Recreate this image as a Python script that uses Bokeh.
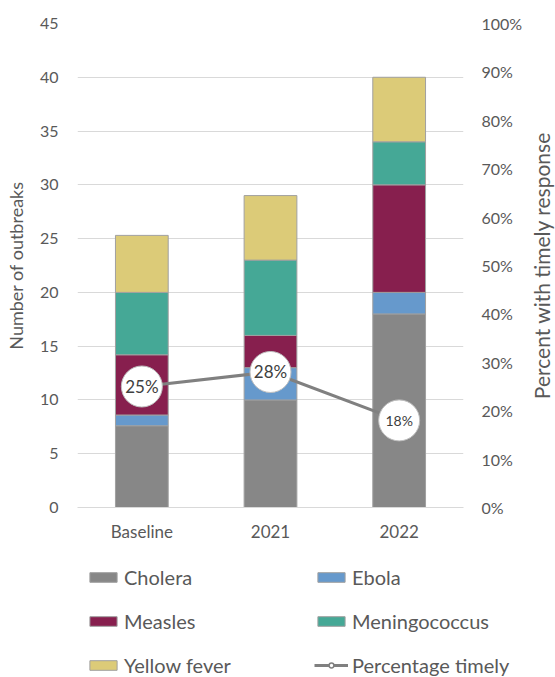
from bokeh.plotting import figure
from bokeh.layouts import column, row
from bokeh.models import (ColumnDataSource, FactorRange, Range1d, LinearAxis, FixedTicker,
                          SingleIntervalTicker, PrintfTickFormatter, Legend, LegendItem)
from bokeh.core.properties import value
from bokeh.embed import file_html
from bokeh.resources import INLINE

# ---- data ----
categories = ["Baseline", "2021", "2022"]
cholera = [7.6, 10, 18]
ebola = [1.0, 3, 2]
measles = [5.6, 3, 10]
meningococcus = [5.8, 7, 4]
yellow_fever = [5.3, 6, 6]
pct_timely = [25, 28, 18]

disease_names = ["Cholera", "Ebola", "Measles", "Meningococcus", "Yellow fever"]
keys = ["cholera", "ebola", "measles", "meningococcus", "yellow_fever"]
colors = ["#878787", "#6699cc", "#871f4e", "#45a896", "#dccb78"]
label_sizes = ["17px", "17px", "14px"]

FONT = "Lato"
TXT = "#595959"
GRID = "#d9d9d9"
BAR_LINE = "#a0a0a0"
LINE_COLOR = "#808080"

TOP, BOTTOM = 23, 40

p = figure(x_range=FactorRange(factors=categories, range_padding=0),
           y_range=Range1d(0, 45),
           width=525, height=547,
           min_border_left=77, min_border_right=62,
           min_border_top=TOP, min_border_bottom=BOTTOM,
           output_backend="svg", toolbar_location=None)
p.outline_line_color = None
p.background_fill_color = "white"
p.border_fill_color = "white"

src = ColumnDataSource(dict(cat=categories, cholera=cholera, ebola=ebola, measles=measles,
                           meningococcus=meningococcus, yellow_fever=yellow_fever))
bars = p.vbar_stack(keys, x="cat", width=0.41, color=colors, line_color=BAR_LINE,
                    line_width=1, source=src)

# secondary axis
p.extra_y_ranges = {"pct": Range1d(0, 100)}
p.line(x=categories, y=pct_timely, y_range_name="pct", line_color=LINE_COLOR, line_width=3)
p.scatter(x=categories, y=pct_timely, y_range_name="pct", size=41, marker="circle",
          fill_color="white", line_color="#bfbfbf", line_width=1)
p.text(x=categories, y=pct_timely, y_range_name="pct",
       text=[f"{v}%" for v in pct_timely], text_align="center", text_baseline="middle",
       text_font=value(FONT), text_font_size=label_sizes, text_color="#404040")

# left axis
ya = p.yaxis[0]
ya.ticker = SingleIntervalTicker(interval=5)
ya.axis_label = "Number of outbreaks"
p.ygrid.ticker = SingleIntervalTicker(interval=5)
p.ygrid.grid_line_color = GRID
p.xgrid.grid_line_color = None

ra = LinearAxis(y_range_name="pct", ticker=SingleIntervalTicker(interval=10),
                formatter=PrintfTickFormatter(format="%d%%"))
p.add_layout(ra, "right")

for ax in (ya, ra):
    ax.axis_line_color = None
    ax.major_tick_line_color = None
    ax.minor_tick_line_color = None
    ax.major_tick_out = 0
    ax.major_tick_in = 0
    ax.minor_tick_out = 0
    ax.major_label_text_font = FONT
    ax.major_label_text_font_size = "16px"
    ax.major_label_text_color = TXT
ya.axis_label_text_font = FONT
ya.axis_label_text_font_size = "18px"
ya.axis_label_text_font_style = "normal"
ya.axis_label_text_color = TXT
ya.major_label_standoff = 19
ya.axis_label_standoff = 10
ra.major_label_standoff = 18

xa = p.xaxis[0]
xa.axis_line_color = GRID
xa.axis_line_width = 1
xa.major_tick_line_color = None
xa.minor_tick_line_color = None
xa.major_tick_out = 0
xa.major_tick_in = 0
xa.major_label_standoff = 13
xa.major_label_text_font = FONT
xa.major_label_text_font_size = "17px"
xa.major_label_text_color = TXT

# ---- right-hand title strip: an axis title that reads bottom-to-top like the reference ----
tf = figure(width=30, height=547, x_range=Range1d(0, 1), y_range=Range1d(0, 100),
            x_axis_type=None,
            min_border_left=28, min_border_right=0,
            min_border_top=TOP, min_border_bottom=BOTTOM,
            output_backend="svg", toolbar_location=None)
tf.outline_line_color = None
tf.xgrid.visible = False
tf.ygrid.visible = False
tf.border_fill_color = "white"
tf.background_fill_color = "white"
ta = tf.yaxis[0]
ta.ticker = FixedTicker(ticks=[])
ta.axis_line_color = None
ta.major_tick_out = 0
ta.major_tick_in = 0
ta.minor_tick_out = 0
ta.major_label_standoff = 0
ta.axis_label = "Percent with timely response"
ta.axis_label_standoff = 2
ta.axis_label_text_font = FONT
ta.axis_label_text_font_size = "21px"
ta.axis_label_text_font_style = "normal"
ta.axis_label_text_color = TXT

# ---- legend panel (legend-only renderers with the same styles, kept out of view) ----
lg = figure(width=555, height=129, x_range=Range1d(0, 1), y_range=Range1d(0, 1),
            x_axis_type=None, y_axis_type=None,
            min_border_left=0, min_border_right=0, min_border_top=0, min_border_bottom=0,
            output_backend="svg", toolbar_location=None)
lg.outline_line_color = None
lg.xgrid.visible = False
lg.ygrid.visible = False
lg.border_fill_color = "white"
lg.background_fill_color = "white"

unaligned = True
try:
    for f in (p, tf, lg):
        f.frame_align = False
except Exception:
    unaligned = False

items = []
for name, c in zip(disease_names, colors):
    r = lg.vbar(x=[-5], top=[-5], bottom=[-6], width=0.1, fill_color=c,
                line_color=BAR_LINE, line_width=1)
    items.append(LegendItem(label=name, renderers=[r]))
lr = lg.line(x=[-6, -5], y=[-5, -5], line_color=LINE_COLOR, line_width=3)
mr = lg.scatter(x=[-5], y=[-5], marker="circle", size=10, fill_color="white",
                line_color=LINE_COLOR, line_width=1.5)
items.append(LegendItem(label="Percentage timely", renderers=[lr, mr]))

legend = Legend(items=items, location=(86 if unaligned else 9, -1),
                orientation="horizontal", ncols=2,
                glyph_width=34, glyph_height=12, label_height=22, label_width=170,
                label_standoff=4, spacing=20, padding=0, margin=0,
                border_line_alpha=0, background_fill_alpha=0,
                label_text_font=FONT, label_text_font_size="20px", label_text_color=TXT)
lg.add_layout(legend)

layout = column(row(p, tf, spacing=0), lg, spacing=0)
open("out.html", "w").write(file_html(layout, INLINE))
